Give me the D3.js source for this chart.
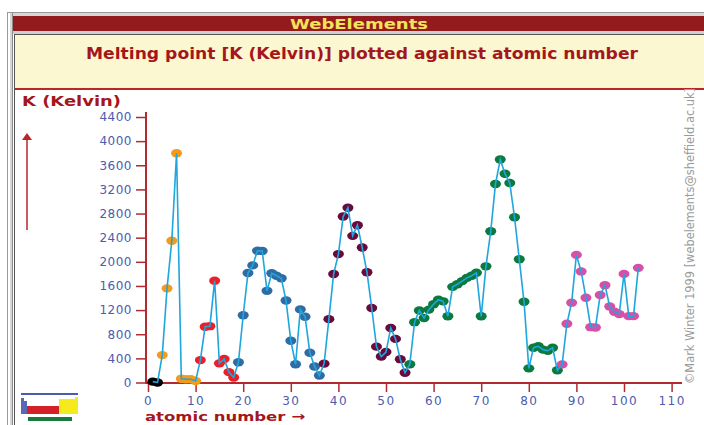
<!DOCTYPE html>
<html>
<head>
<meta charset="utf-8">
<script src="https://cdn.jsdelivr.net/npm/d3@7"></script>
<style>
  html, body { margin: 0; padding: 0; background: #ffffff; }
  svg { display: block; }
  text { font-family: "DejaVu Sans", Verdana, sans-serif; }
</style>
</head>
<body>
<svg id="chart" width="704" height="425"></svg>
<script>
// ---- data ----
const atomicNumbers = d3.range(1, 104);
const meltingPoints = [
  14.01, 0.95, 453.69, 1560, 2349, 3800, 63.05, 54.8, 53.53, 24.56,
  370.87, 923, 933.47, 1687, 317.3, 388.36, 171.6, 83.8, 336.53, 1115,
  1814, 1941, 2183, 2180, 1519, 1811, 1768, 1728, 1357.77, 692.68,
  302.91, 1211.4, 1090, 494, 265.8, 115.79, 312.46, 1050, 1799, 2128,
  2750, 2896, 2430, 2607, 2237, 1828.05, 1234.93, 594.22, 429.75, 505.08,
  903.78, 722.66, 386.85, 161.4, 301.59, 1000, 1193, 1068, 1208, 1297,
  1373, 1345, 1099, 1585, 1629, 1680, 1734, 1770, 1818, 1097,
  1925, 2506, 3290, 3695, 3459, 3306, 2739, 2041.4, 1337.33, 234.32,
  577, 600.61, 544.4, 527, 575, 202, 300, 973, 1323, 2115,
  1841, 1405.3, 917, 912.5, 1449, 1613, 1259, 1173, 1133, 1800,
  1100, 1100, 1900
];
const periodStarts = [1, 3, 11, 19, 37, 55, 87];
const periodColors = ["#000000", "#f49a1c", "#ea1f2a", "#2f6ca3", "#6a0a3c", "#0a7a3e", "#d84fa8"];
const yTicks = [0, 400, 800, 1200, 1600, 2000, 2400, 2800, 3200, 3600, 4000, 4400];
const xTicks = [0, 10, 20, 30, 40, 50, 60, 70, 80, 90, 100, 110];
const titleText = "WebElements";
const subtitleText = "Melting point [K (Kelvin)] plotted against atomic number";
const yLabelText = "K (Kelvin)";
const xLabelText = "atomic number \u2192";
const creditText = "\u00A9Mark Winter 1999 [webelements@sheffield.ac.uk]";

const data = atomicNumbers.map((z, i) => ({
  z, mp: meltingPoints[i],
  period: d3.bisectRight(periodStarts, z) - 1
}));

// ---- frame ----
const svg = d3.select("#chart");
const darkRed = "#931b1e";
const axisRed = "#b02a30";
const tickBlue = "#4a5cae";

// outer window chrome
svg.append("rect").attr("x", 7).attr("y", 12).attr("width", 697).attr("height", 413).attr("fill", "#ffffff");
svg.append("line").attr("x1", 7.5).attr("x2", 7.5).attr("y1", 12).attr("y2", 425).attr("stroke", "#9a9a9a").attr("stroke-width", 1);
svg.append("line").attr("x1", 7).attr("x2", 704).attr("y1", 12.5).attr("y2", 12.5).attr("stroke", "#9a9a9a").attr("stroke-width", 1);
svg.append("rect").attr("x", 10).attr("y", 13).attr("width", 3).attr("height", 412).attr("fill", "#d6d6d6");
svg.append("rect").attr("x", 13).attr("y", 13).attr("width", 691).attr("height", 3).attr("fill", "#d6d6d6");
svg.append("line").attr("x1", 12.5).attr("x2", 12.5).attr("y1", 13).attr("y2", 425).attr("stroke", "#8a8a8a");
// title bar
svg.append("rect").attr("x", 13).attr("y", 16).attr("width", 691).attr("height", 15).attr("fill", darkRed);
svg.append("rect").attr("x", 13).attr("y", 31).attr("width", 691).attr("height", 3).attr("fill", "#cfcfcf");
svg.append("text").attr("x", 359).attr("y", 28.5).attr("text-anchor", "middle")
  .attr("font-size", 14).attr("font-weight", "bold").attr("fill", "#f4e25a")
  .attr("textLength", 138).attr("lengthAdjust", "spacingAndGlyphs").text(titleText);
// cream header panel
svg.append("rect").attr("x", 14).attr("y", 34).attr("width", 690).attr("height", 55).attr("fill", "#fbf7d0");
svg.append("line").attr("x1", 14).attr("x2", 704).attr("y1", 34.5).attr("y2", 34.5).attr("stroke", "#555555");
svg.append("line").attr("x1", 14.5).attr("x2", 14.5).attr("y1", 34).attr("y2", 425).attr("stroke", "#555555");
svg.append("text").attr("x", 362).attr("y", 59).attr("text-anchor", "middle")
  .attr("font-size", 15).attr("font-weight", "bold").attr("fill", "#a5161c")
  .attr("textLength", 552).attr("lengthAdjust", "spacingAndGlyphs").text(subtitleText);
svg.append("rect").attr("x", 15).attr("y", 88).attr("width", 689).attr("height", 2).attr("fill", "#b8262c");

// ---- scales ----
const x = d3.scaleLinear().domain([0, 110]).range([148, 671.6]);
const y = d3.scaleLinear().domain([0, 4400]).range([382.5, 117]);

// axis lines
svg.append("line").attr("x1", 146).attr("x2", 146).attr("y1", 112).attr("y2", 384)
  .attr("stroke", axisRed).attr("stroke-width", 2);
svg.append("line").attr("x1", 145).attr("x2", 682).attr("y1", 383).attr("y2", 383)
  .attr("stroke", axisRed).attr("stroke-width", 2);

// y axis
const yAxis = svg.append("g").attr("transform", "translate(146,0)")
  .call(d3.axisLeft(y).tickValues(yTicks).tickSize(10).tickPadding(4).tickFormat(d3.format("d")));
yAxis.select(".domain").remove();
yAxis.selectAll(".tick line").attr("stroke", axisRed).attr("stroke-width", 1.5);
yAxis.selectAll(".tick text").attr("fill", tickBlue).attr("font-size", 12)
  .attr("font-family", "DejaVu Sans, sans-serif").attr("letter-spacing", 0.5);

// x axis
const xAxis = svg.append("g").attr("transform", "translate(0,383)")
  .call(d3.axisBottom(x).tickValues(xTicks).tickSize(9).tickPadding(4).tickFormat(d3.format("d")));
xAxis.select(".domain").remove();
xAxis.selectAll(".tick line").attr("stroke", axisRed).attr("stroke-width", 1.5);
xAxis.selectAll(".tick text").attr("fill", tickBlue).attr("font-size", 12)
  .attr("font-family", "DejaVu Sans, sans-serif").attr("letter-spacing", 1.5);

// axis titles
svg.append("text").attr("x", 22).attr("y", 106).attr("font-size", 14).attr("font-weight", "bold")
  .attr("fill", "#a5161c").attr("textLength", 99).attr("lengthAdjust", "spacingAndGlyphs").text(yLabelText);
svg.append("text").attr("x", 145).attr("y", 421).attr("font-size", 13).attr("font-weight", "bold")
  .attr("fill", "#a5161c").attr("textLength", 160).attr("lengthAdjust", "spacingAndGlyphs").text(xLabelText);

// up arrow
svg.append("line").attr("x1", 27).attr("x2", 27).attr("y1", 136).attr("y2", 230)
  .attr("stroke", "#b8262c").attr("stroke-width", 1.5);
svg.append("path").attr("d", "M22,140 L27,133 L32,140 Z").attr("fill", "#b8262c");

// ---- marks ----
svg.append("g").selectAll("ellipse").data(data).join("ellipse")
  .attr("cx", d => x(d.z)).attr("cy", d => y(d.mp))
  .attr("rx", 5.5).attr("ry", 4.2)
  .attr("fill", d => periodColors[d.period]);

const line = d3.line().x(d => x(d.z)).y(d => y(d.mp));
svg.append("path").datum(data).attr("d", line)
  .attr("fill", "none").attr("stroke", "#1ea6dd").attr("stroke-width", 1.6);

// ---- legend icon ----
const icon = svg.append("g");
icon.append("rect").attr("x", 21).attr("y", 393).attr("width", 57).attr("height", 2).attr("fill", "#4a5cae");
icon.append("path").attr("d", "M21,398 L24,398 L24,401 L27,401 L27,414 L21,414 Z").attr("fill", "#5a66b8");
icon.append("rect").attr("x", 27).attr("y", 406).attr("width", 32).attr("height", 8).attr("fill", "#d42027");
icon.append("path").attr("d", "M59,399 L75,399 L75,397 L78,397 L78,414 L59,414 Z").attr("fill", "#f5ea1c");
icon.append("rect").attr("x", 28).attr("y", 417).attr("width", 44).attr("height", 4).attr("fill", "#1a7a3a");

// ---- credit text (vertical) ----
svg.append("text").attr("transform", "translate(694,236) rotate(-90)")
  .attr("text-anchor", "middle").attr("font-size", 12).attr("fill", "#9a9a9a")
  .attr("textLength", 296).attr("lengthAdjust", "spacingAndGlyphs").text(creditText);
</script>
</body>
</html>
